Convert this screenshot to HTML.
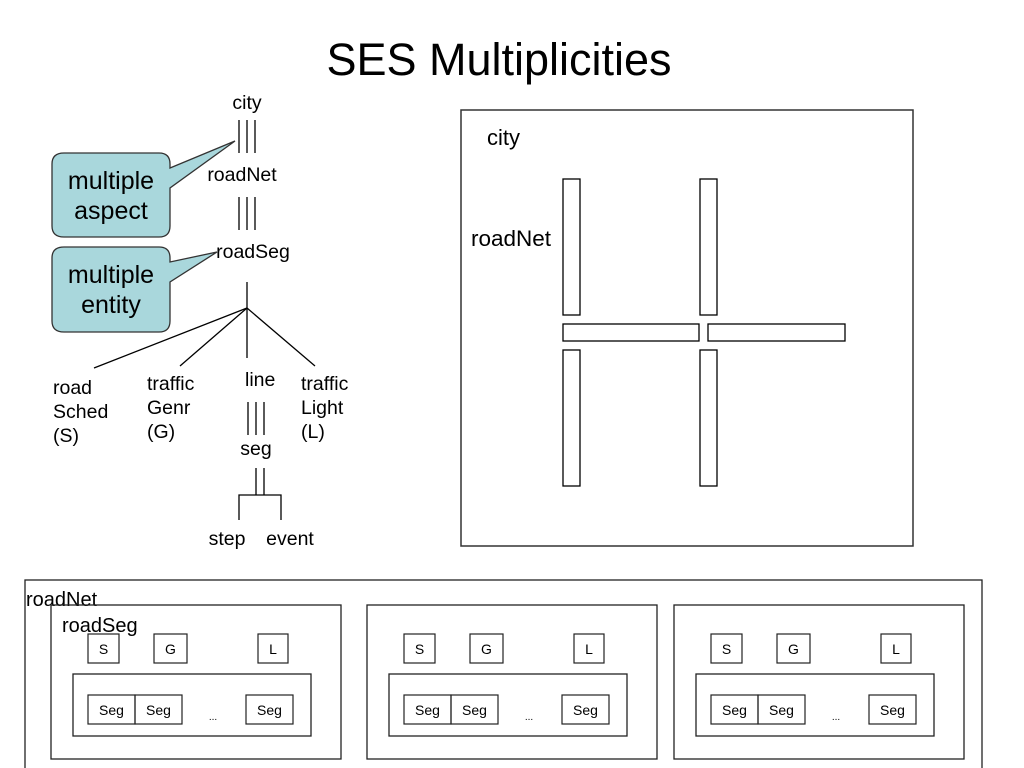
<!DOCTYPE html>
<html><head><meta charset="utf-8"><style>
body{margin:0;width:1024px;height:768px;background:#fff;overflow:hidden}
svg{display:block}
text{font-family:"Liberation Sans",sans-serif;fill:#000}
</style></head><body>
<svg width="1024" height="768" viewBox="0 0 1024 768">
<text x="499" y="75" font-size="45" text-anchor="middle">SES Multiplicities</text>
<g stroke="#000" stroke-width="1.3" fill="none">
<line x1="239" y1="120" x2="239" y2="153"/><line x1="247" y1="120" x2="247" y2="153"/><line x1="255" y1="120" x2="255" y2="153"/>
<line x1="239" y1="197" x2="239" y2="230"/><line x1="247" y1="197" x2="247" y2="230"/><line x1="255" y1="197" x2="255" y2="230"/>
<line x1="247" y1="282" x2="247" y2="358"/>
<line x1="247" y1="308" x2="94" y2="368"/>
<line x1="247" y1="308" x2="180" y2="366"/>
<line x1="247" y1="308" x2="315" y2="366"/>
<line x1="248" y1="402" x2="248" y2="435"/><line x1="256" y1="402" x2="256" y2="435"/><line x1="264" y1="402" x2="264" y2="435"/>
<line x1="256" y1="468" x2="256" y2="495"/><line x1="264" y1="468" x2="264" y2="495"/>
<polyline points="239,520 239,495 281,495 281,520"/>
</g>
<path d="M64,153 H159 Q170,153 170,164 V168 L235,141 L170,188 V226 Q170,237 159,237 H64 Q52,237 52,226 V164 Q52,153 64,153 Z" fill="#a9d7dc" stroke="#333" stroke-width="1.3"/>
<path d="M64,247 H159 Q170,247 170,258 V262 L217,252 L170,282 V321 Q170,332 159,332 H64 Q52,332 52,321 V258 Q52,247 64,247 Z" fill="#a9d7dc" stroke="#333" stroke-width="1.3"/>
<g font-size="25" text-anchor="middle"><text x="111" y="189">multiple</text><text x="111" y="219">aspect</text>
<text x="111" y="283">multiple</text><text x="111" y="313">entity</text></g>
<g font-size="19.5">
<text x="247" y="109" text-anchor="middle">city</text>
<text x="242" y="181" text-anchor="middle">roadNet</text>
<text x="253" y="258" text-anchor="middle">roadSeg</text>
<text x="53" y="394">road</text><text x="53" y="418">Sched</text><text x="53" y="442">(S)</text>
<text x="147" y="390">traffic</text><text x="147" y="414">Genr</text><text x="147" y="438">(G)</text>
<text x="245" y="386">line</text>
<text x="301" y="390">traffic</text><text x="301" y="414">Light</text><text x="301" y="438">(L)</text>
<text x="256" y="455" text-anchor="middle">seg</text>
<text x="227" y="545" text-anchor="middle">step</text>
<text x="290" y="545" text-anchor="middle">event</text>
</g>
<rect x="461" y="110" width="452" height="436" fill="none" stroke="#333" stroke-width="1.5"/>
<text x="487" y="145" font-size="22">city</text>
<text x="471" y="246" font-size="22.5">roadNet</text>
<g fill="none" stroke="#000" stroke-width="1.3">
<rect x="563" y="179" width="17" height="136"/><rect x="700" y="179" width="17" height="136"/>
<rect x="563" y="324" width="136" height="17"/><rect x="708" y="324" width="137" height="17"/>
<rect x="563" y="350" width="17" height="136"/><rect x="700" y="350" width="17" height="136"/>
<rect x="25" y="580" width="957" height="200" stroke="#222"/>
</g>
<text x="26" y="606" font-size="20">roadNet</text>
<defs>
<g id="p">
<rect x="51" y="605" width="290" height="154" fill="none" stroke="#222" stroke-width="1.3"/>
<rect x="88" y="634" width="31" height="29" fill="none" stroke="#222" stroke-width="1.2"/>
<rect x="154" y="634" width="33" height="29" fill="none" stroke="#222" stroke-width="1.2"/>
<rect x="258" y="634" width="30" height="29" fill="none" stroke="#222" stroke-width="1.2"/>
<rect x="73" y="674" width="238" height="62" fill="none" stroke="#222" stroke-width="1.3"/>
<rect x="88" y="695" width="47" height="29" fill="none" stroke="#222" stroke-width="1.2"/>
<rect x="135" y="695" width="47" height="29" fill="none" stroke="#222" stroke-width="1.2"/>
<rect x="246" y="695" width="47" height="29" fill="none" stroke="#222" stroke-width="1.2"/>
<g font-size="14" text-anchor="middle" font-family="Liberation Sans">
<text x="103.5" y="654">S</text><text x="170.5" y="654">G</text><text x="273" y="654">L</text>
<text x="111.5" y="715">Seg</text><text x="158.5" y="715">Seg</text><text x="269.5" y="715">Seg</text>
<text x="213" y="720" font-size="10">...</text></g>
</g></defs>
<use href="#p"/>
<use href="#p" x="316"/>
<use href="#p" x="623"/>
<text x="62" y="632" font-size="20">roadSeg</text>
</svg>
</body></html>
